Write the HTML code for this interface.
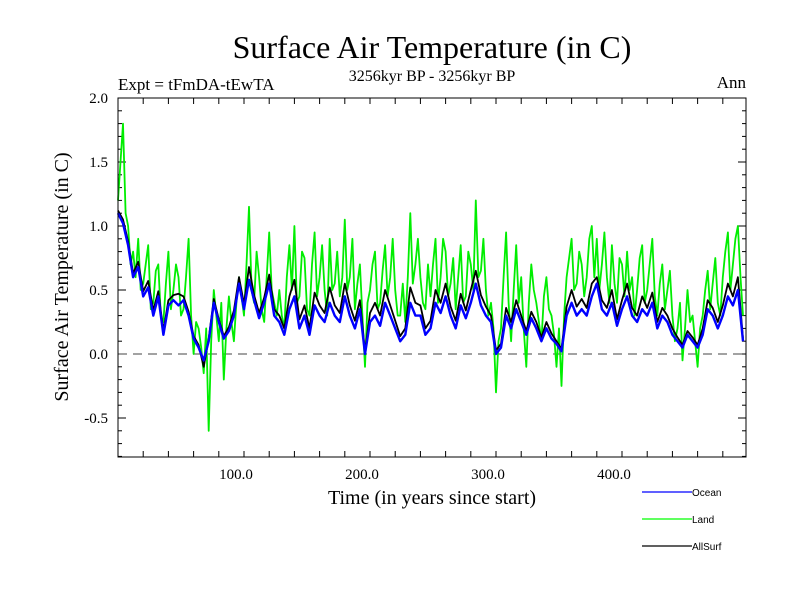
<!DOCTYPE html>
<html><head><meta charset="utf-8"><style>
body{margin:0;background:#fff;}
svg text{font-family:"Liberation Serif",serif;}
</style></head><body>
<svg id="chart" width="800" height="600" xmlns="http://www.w3.org/2000/svg">
<rect width="800" height="600" fill="#fff"/>
<text x="432" y="58" font-size="32" text-anchor="middle">Surface Air Temperature (in C)</text>
<text x="118" y="90" font-size="17">Expt = tFmDA-tEwTA</text>
<text x="432" y="81" font-size="16" text-anchor="middle">3256kyr BP - 3256kyr BP</text>
<text x="746" y="88" font-size="17" text-anchor="end">Ann</text>
<text transform="translate(68,277) rotate(-90)" font-size="20" text-anchor="middle">Surface Air Temperature (in C)</text>
<text x="432" y="504" font-size="20" text-anchor="middle">Time (in years since start)</text>
<g id="axes"></g>
<g id="series"></g>
<rect x="118" y="98" width="628" height="359" fill="none" stroke="#000" stroke-width="1"/>
<g font-size="10">
<line x1="642" y1="492" x2="692" y2="492" stroke="#0000ff" stroke-width="1.2"/>
<text x="692" y="496" style="font-family:'Liberation Sans',sans-serif">Ocean</text>
<line x1="642" y1="519" x2="692" y2="519" stroke="#00ff00" stroke-width="1.2"/>
<text x="692" y="523" style="font-family:'Liberation Sans',sans-serif">Land</text>
<line x1="642" y1="546" x2="692" y2="546" stroke="#000" stroke-width="1.2"/>
<text x="692" y="550" style="font-family:'Liberation Sans',sans-serif">AllSurf</text>
</g>
</svg>
<script>
const yearStep = 4;
const landYearStep = 2;
const oceanValues = [1.1,1.02,0.85,0.6,0.68,0.45,0.52,0.3,0.45,0.15,0.38,0.42,0.38,0.42,0.3,0.12,0.05,-0.05,0.1,0.4,0.25,0.12,0.18,0.3,0.55,0.35,0.58,0.42,0.28,0.4,0.55,0.3,
0.25,0.15,0.35,0.45,0.2,0.3,0.15,0.38,0.3,0.25,0.4,0.3,0.25,0.45,0.3,0.2,0.35,0.0,0.25,0.3,0.22,0.4,0.3,0.2,0.1,0.15,0.4,0.3,0.3,0.15,
0.2,0.4,0.32,0.45,0.3,0.2,0.38,0.28,0.4,0.55,0.38,0.3,0.25,0.0,0.05,0.3,0.2,0.35,0.25,0.15,0.28,0.2,0.1,0.2,0.12,0.08,0.02,0.3,0.4,0.3,0.35,0.3,
0.45,0.55,0.35,0.3,0.4,0.22,0.35,0.45,0.3,0.25,0.35,0.3,0.4,0.2,0.3,0.25,0.15,0.1,0.05,0.15,0.1,0.05,0.15,0.35,0.3,0.2,0.3,0.45,0.38,0.5,0.1];
const landValues = [1.2,1.5,1.8,1.1,1.0,0.7,0.8,0.6,0.9,0.5,0.55,0.7,0.85,0.35,0.4,0.65,0.7,0.3,0.25,0.55,0.8,0.35,0.5,0.7,0.6,0.3,0.35,0.6,0.9,0.3,0.0,0.25,0.2,0.05,-0.15,0.2,-0.6,0.1,0.5,0.3,0.1,0.4,-0.2,0.2,0.45,0.25,0.1,0.4,0.6,0.45,0.3,0.7,1.15,0.5,0.4,0.8,0.6,0.35,0.25,0.6,0.95,0.5,0.4,0.3,
0.5,0.3,0.2,0.6,0.85,0.5,1.0,0.4,0.45,0.8,0.75,0.35,0.3,0.7,0.95,0.45,0.6,0.85,0.5,0.3,0.9,0.5,0.55,0.8,0.45,0.6,1.05,0.5,0.6,0.9,0.35,0.55,0.7,0.3,-0.1,0.4,0.5,0.7,0.8,0.35,0.4,0.65,0.85,0.45,0.6,0.9,0.5,0.3,0.3,0.55,0.25,0.6,1.1,0.55,0.7,0.9,0.6,0.4,0.35,0.7,
0.45,0.7,0.9,0.4,0.6,0.9,0.8,0.45,0.55,0.75,0.35,0.6,0.85,0.4,0.45,0.8,0.7,0.5,1.2,0.6,0.65,0.9,0.5,0.3,0.4,0.2,-0.3,0.1,0.2,0.6,0.95,0.4,0.1,0.5,0.85,0.4,0.6,0.2,-0.1,0.4,0.7,0.5,0.4,0.25,0.1,0.45,0.6,0.35,0.3,0.15,-0.1,0.2,-0.25,0.3,0.6,0.75,0.9,0.5,0.55,0.8,0.7,0.45,0.6,0.9,
1.0,0.6,0.9,0.5,0.7,0.95,0.6,0.4,0.85,0.55,0.4,0.75,0.7,0.45,0.8,0.5,0.6,0.3,0.5,0.75,0.85,0.4,0.5,0.7,0.9,0.45,0.3,0.55,0.7,0.35,0.5,0.65,0.3,0.1,0.2,0.4,-0.05,0.2,0.5,0.25,0.3,0.1,-0.1,0.2,0.3,0.5,0.65,0.35,0.55,0.75,0.4,0.3,0.6,0.8,0.95,0.5,0.7,0.9,1.0,0.6,0.3];
const allSurfValues = [1.12,1.05,0.88,0.63,0.72,0.49,0.57,0.34,0.49,0.18,0.42,0.46,0.47,0.45,0.33,0.14,0.07,-0.1,0.12,0.43,0.27,0.14,0.21,0.34,0.6,0.39,0.68,0.46,0.32,0.44,0.62,0.35,
0.3,0.2,0.45,0.58,0.27,0.38,0.2,0.48,0.38,0.32,0.52,0.38,0.32,0.55,0.38,0.26,0.42,0.02,0.32,0.4,0.3,0.5,0.38,0.26,0.14,0.2,0.52,0.4,0.38,0.2,
0.26,0.5,0.4,0.55,0.37,0.26,0.47,0.34,0.5,0.65,0.46,0.37,0.3,0.03,0.08,0.36,0.25,0.42,0.3,0.18,0.33,0.25,0.13,0.25,0.16,0.1,0.04,0.37,0.5,0.37,0.43,0.36,
0.55,0.6,0.42,0.36,0.5,0.27,0.42,0.55,0.36,0.3,0.45,0.36,0.48,0.25,0.36,0.3,0.2,0.13,0.07,0.18,0.13,0.07,0.2,0.42,0.36,0.25,0.38,0.55,0.45,0.6,0.12];
const yTickValues = [-0.5,0.0,0.5,1.0,1.5,2.0];
const yTickLabels = ["-0.5","0.0","0.5","1.0","1.5","2.0"];
const xTickValues = [100,200,300,400];
const xTickLabels = ["100.0","200.0","300.0","400.0"];

const NS = "http://www.w3.org/2000/svg";
const X0 = 118, X1 = 746, Y0 = 98, Y1 = 457;
const xMin = 0, xMax = 498.4, yMin = -0.8047, yMax = 2.0;
function sx(v){ return X0 + (v - xMin) / (xMax - xMin) * (X1 - X0); }
function sy(v){ return Y1 - (v - yMin) / (yMax - yMin) * (Y1 - Y0); }
function mk(tag, attrs){ const e = document.createElementNS(NS, tag); for (const k in attrs) e.setAttribute(k, attrs[k]); return e; }

const axes = document.getElementById('axes');
for (let v = -0.8; v <= 2.001; v += 0.1) {
  const major = Math.abs(v * 2 - Math.round(v * 2)) < 1e-6;
  const len = major ? 8 : 4;
  const y = sy(v);
  const l1 = mk('line', {x1: X0, x2: X0 + len, y1: y, y2: y, stroke: '#000'});
  
  
  axes.appendChild(l1);
  const l2 = mk('line', {x1: X1, x2: X1 - len, y1: y, y2: y, stroke: '#000'});
  
  
  axes.appendChild(l2);
}
yTickValues.forEach((v, i) => {
  const t = mk('text', {x: 108, y: sy(v) + 5, 'font-size': 15, 'text-anchor': 'end'});
  t.textContent = yTickLabels[i];
  
  
  axes.appendChild(t);
});
for (let v = 20; v < xMax; v += 20) {
  const x = sx(v);
  const a = mk('line', {x1: x, x2: x, y1: Y1, y2: Y1 - 6, stroke: '#000'});
  
  
  axes.appendChild(a);
  const b = mk('line', {x1: x, x2: x, y1: Y0, y2: Y0 + 6, stroke: '#000'});
  
  
  axes.appendChild(b);
}
xTickValues.forEach((v, i) => {
  const t = mk('text', {x: sx(v) - 8, y: 479, 'font-size': 15, 'text-anchor': 'middle'});
  t.textContent = xTickLabels[i];
  
  
  axes.appendChild(t);
});
const zl = mk('line', {x1: X0, x2: X1, y1: sy(0), y2: sy(0), stroke: '#444', 'stroke-dasharray': '9,6'});


axes.appendChild(zl);

const series = document.getElementById('series');
function draw(vals, step, color, w, name){
  const pts = vals.map((v, i) => sx(i * step).toFixed(1) + ',' + sy(v).toFixed(1)).join(' ');
  const p = mk('polyline', {points: pts, fill: 'none', stroke: color, 'stroke-width': w, 'stroke-linejoin': 'round'});
  
  
  series.appendChild(p);
}
draw(landValues, landYearStep, '#00ee00', 1.8, 'land-series');
draw(allSurfValues, yearStep, '#000000', 1.8, 'allsurf-series');
draw(oceanValues, yearStep, '#0000ff', 2.4, 'ocean-series');
</script>
</body></html>
